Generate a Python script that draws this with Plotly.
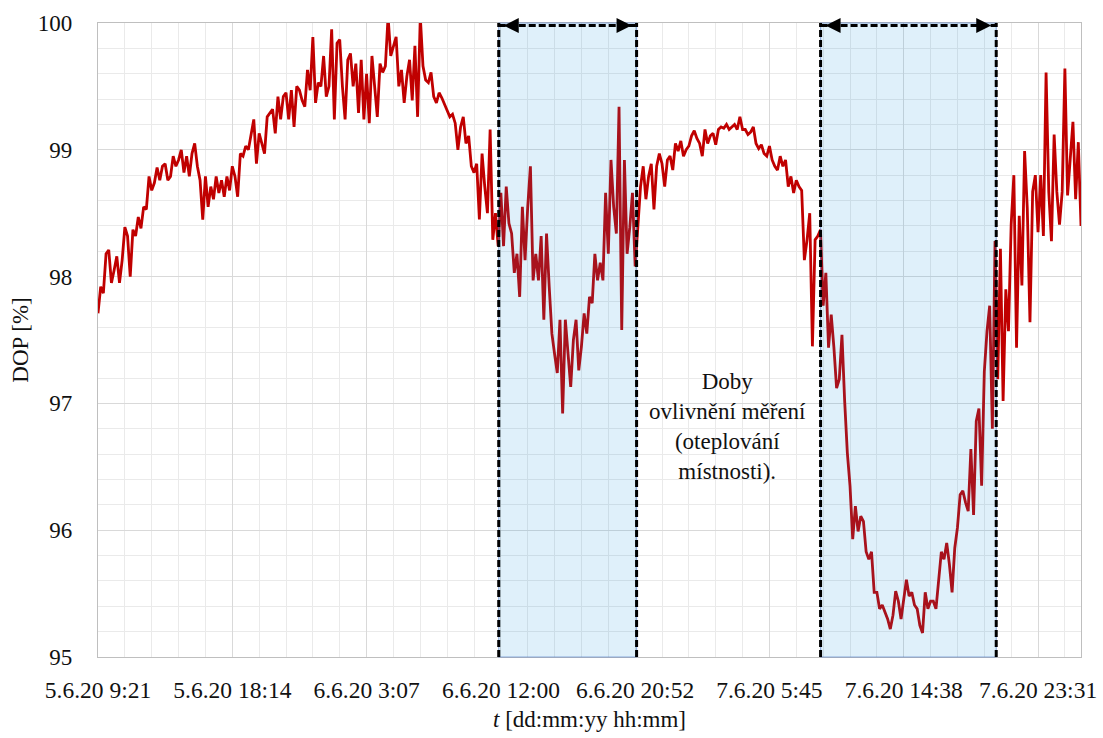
import pandas as pd
import plotly.graph_objects as go

# ---------------- data ----------------
MEAS_START = "2020-06-05 09:21"
SAMPLE_PERIOD_S = 639.4          # spacing of the plotted samples [s]

dop = [
    97.71, 97.92, 97.87, 98.18, 98.21, 97.95, 98.05, 98.16, 97.95, 98.13,
    98.39, 98.32, 98.00, 98.37, 98.32, 98.47, 98.38, 98.55, 98.53, 98.79,
    98.68, 98.74, 98.86, 98.76, 98.87, 98.89, 98.76, 98.79, 98.95, 98.87,
    98.92, 99.00, 98.82, 98.95, 98.79, 98.97, 99.05, 98.87, 98.76, 98.45,
    98.79, 98.55, 98.71, 98.61, 98.79, 98.66, 98.76, 98.63, 98.79, 98.68,
    98.87, 98.79, 98.63, 98.97, 98.95, 99.03, 99.00, 99.11, 99.24, 98.89,
    99.13, 99.05, 98.97, 99.26, 99.29, 99.32, 99.13, 99.42, 99.24, 99.42,
    99.45, 99.24, 99.47, 99.18, 99.50, 99.47, 99.39, 99.34, 99.63, 99.47,
    99.89, 99.37, 99.53, 99.50, 99.74, 99.42, 99.50, 99.95, 99.24, 99.84,
    99.87, 99.50, 99.24, 99.71, 99.76, 99.50, 99.68, 99.29, 99.71, 99.24,
    99.60, 99.21, 99.74, 99.47, 99.26, 99.68, 99.61, 99.66, 100.05, 99.74,
    99.82, 99.89, 99.50, 99.63, 99.37, 99.58, 99.71, 99.39, 99.82, 99.26,
    100.05, 99.66, 99.55, 99.53, 99.61, 99.42, 99.37, 99.45, 99.41, 99.36,
    99.30, 99.26, 99.28, 99.21, 99.00, 99.18, 99.26, 99.05, 99.11, 98.87,
    98.82, 98.89, 98.45, 98.97, 98.71, 98.50, 99.16, 98.29, 98.50, 98.24,
    98.66, 98.24, 98.71, 98.42, 98.34, 98.03, 98.18, 97.84, 98.55, 98.13,
    98.55, 98.87, 97.97, 98.18, 97.97, 98.32, 97.66, 98.34, 97.92, 97.55,
    97.39, 97.24, 97.66, 96.92, 97.66, 97.39, 97.13, 97.50, 97.66, 97.26,
    97.45, 97.71, 97.55, 97.84, 97.79, 98.18, 97.97, 98.11, 97.97, 98.66,
    98.18, 98.92, 98.55, 98.34, 99.34, 97.58, 98.92, 98.18, 98.39, 98.66,
    98.08, 98.39, 98.71, 98.87, 98.61, 98.79, 98.89, 98.53, 98.87, 98.97,
    98.89, 98.71, 98.92, 98.95, 98.84, 99.05, 98.99, 99.07, 98.95, 99.00,
    99.03, 99.11, 99.15, 99.09, 99.05, 98.95, 99.16, 99.05, 99.11, 99.13,
    99.04, 99.16, 99.18, 99.17, 99.20, 99.16, 99.18, 99.20, 99.16, 99.26,
    99.16, 99.16, 99.12, 99.14, 99.18, 99.05, 99.01, 99.04, 98.97, 98.95,
    99.03, 98.92, 98.87, 98.84, 98.95, 98.87, 98.92, 98.71, 98.79, 98.66,
    98.76, 98.71, 98.68, 98.13, 98.29, 98.50, 97.45, 98.29, 98.32, 98.37,
    97.77, 98.03, 97.44, 97.70, 97.44, 97.12, 97.19, 97.54, 97.02, 96.61,
    96.35, 95.93, 96.19, 95.99, 96.11, 96.07, 95.83, 95.77, 95.83, 95.51,
    95.51, 95.38, 95.41, 95.35, 95.30, 95.22, 95.33, 95.52, 95.44, 95.30,
    95.48, 95.61, 95.48, 95.51, 95.41, 95.38, 95.25, 95.19, 95.51, 95.38,
    95.44, 95.44, 95.38, 95.64, 95.83, 95.77, 95.90, 95.73, 95.51, 95.86,
    96.02, 96.28, 96.31, 96.22, 96.15, 96.64, 96.12, 96.86, 96.96, 96.35,
    97.25, 97.57, 97.77, 96.80, 98.28, 97.19, 98.22, 97.02, 97.90, 97.57,
    98.41, 98.80, 97.44, 98.48, 97.93, 98.99, 98.54, 97.64, 98.67, 98.80,
    98.35, 98.80, 98.32, 99.61, 98.67, 98.28, 99.12, 98.67, 98.41, 98.67,
    99.64, 98.64, 98.93, 99.22, 98.61, 99.06, 98.40,
]

tick_times = [
    "2020-06-05 09:21", "2020-06-05 18:14", "2020-06-06 03:07", "2020-06-06 12:00",
    "2020-06-06 20:52", "2020-06-07 05:45", "2020-06-07 14:38", "2020-06-07 23:31",
]
tick_labels = [
    "5.6.20 9:21", "5.6.20 18:14", "6.6.20 3:07", "6.6.20 12:00",
    "6.6.20 20:52", "7.6.20 5:45", "7.6.20 14:38", "7.6.20 23:31",
]

# periods when the measurement was affected (room warming)
affected_periods = [
    ("2020-06-06 11:51", "2020-06-06 20:58"),
    ("2020-06-07 09:08", "2020-06-07 20:45"),
]
note_text = "Doby<br>ovlivnění měření<br>(oteplování<br>místnosti)."

y_range = [95, 100]
y_major = 1
y_minor = 0.2
x_minor_per_major = 5

# ---------------- figure ----------------
times = pd.date_range(start=MEAS_START, periods=len(dop),
                      freq=pd.to_timedelta(SAMPLE_PERIOD_S, unit="s"))

FONT = "Liberation Serif"
TXT = "#111111"

fig = go.Figure()
fig.add_trace(go.Scatter(
    x=times, y=dop, mode="lines",
    line=dict(color="#C00000", width=2.8),
    showlegend=False, hoverinfo="skip",
))

t_ticks = pd.to_datetime(tick_times)
minor_ms = (t_ticks[-1] - t_ticks[0]).total_seconds() * 1000 / ((len(t_ticks) - 1) * x_minor_per_major)

shapes = []
annotations = []
for a, b in affected_periods:
    shapes.append(dict(type="rect", xref="x", yref="paper", x0=a, x1=b, y0=0, y1=1,
                       fillcolor="rgba(10,140,220,0.13)",
                       line=dict(color="rgba(68,114,196,0.55)", width=1.2),
                       layer="above"))
    for xv in (a, b):
        shapes.append(dict(type="line", xref="x", yref="paper", x0=xv, x1=xv, y0=0, y1=1,
                           line=dict(color="black", width=3, dash="7px,3px"), layer="above"))
    shapes.append(dict(type="line", xref="x", yref="paper", x0=a, x1=b, y0=0.996, y1=0.996,
                       line=dict(color="black", width=3, dash="7px,3px"), layer="above"))
    annotations.append(dict(x=a, y=0.996, xref="x", yref="paper", text="", showarrow=True,
                            arrowhead=2, arrowsize=1.2, arrowwidth=2.5, arrowcolor="black",
                            ax=16, ay=0, standoff=5))
    annotations.append(dict(x=b, y=0.996, xref="x", yref="paper", text="", showarrow=True,
                            arrowhead=2, arrowsize=1.2, arrowwidth=2.5, arrowcolor="black",
                            ax=-16, ay=0, standoff=5))

annotations.append(dict(x=0.64, y=0.363, xref="paper", yref="paper", text=note_text,
                        showarrow=False, align="center",
                        font=dict(family=FONT, size=23, color=TXT)))

fig.update_layout(
    width=1103, height=738,
    margin=dict(l=98, r=22, t=23, b=81, pad=0),
    paper_bgcolor="white", plot_bgcolor="white",
    font=dict(family=FONT, size=23, color=TXT),
    shapes=shapes, annotations=annotations,
    xaxis=dict(
        type="date", range=[times[0], times[-1]],
        tickmode="array", tickvals=tick_times, ticktext=tick_labels,
        tickfont=dict(family=FONT, size=23.5, color=TXT),
        ticks="", ticklabelstandoff=12,
        showgrid=True, gridcolor="#D9D9D9", gridwidth=1,
        minor=dict(dtick=minor_ms, tick0=tick_times[0], showgrid=True,
                   gridcolor="#EAEAEA", gridwidth=1),
        showline=True, mirror=True, linecolor="#BFBFBF", linewidth=1.2,
        zeroline=False, automargin=False,
        title=dict(text="<i>t</i> [dd:mm:yy hh:mm]", standoff=8,
                   font=dict(family=FONT, size=23, color=TXT)),
    ),
    yaxis=dict(
        range=y_range, tick0=y_range[0], dtick=y_major,
        tickfont=dict(family=FONT, size=23, color=TXT),
        ticks="", ticklabelstandoff=20,
        showgrid=True, gridcolor="#D9D9D9", gridwidth=1,
        minor=dict(dtick=y_minor, tick0=y_range[0], showgrid=True,
                   gridcolor="#EAEAEA", gridwidth=1),
        showline=True, mirror=True, linecolor="#BFBFBF", linewidth=1.2,
        zeroline=False, automargin=False,
        title=dict(text="DOP [%]", standoff=2,
                   font=dict(family=FONT, size=23, color=TXT)),
    ),
)

fig.write_html("out.html",
               config={"displayModeBar": False},
               post_script="document.body.style.margin='0';document.body.style.overflow='hidden';")
